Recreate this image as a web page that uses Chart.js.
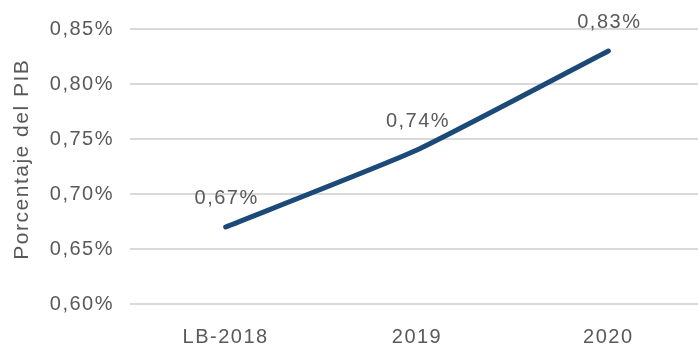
<!DOCTYPE html>
<html lang="es">
<head>
<meta charset="utf-8">
<script src="https://cdn.jsdelivr.net/npm/chart.js@4/dist/chart.umd.min.js"></script>
<style>
  html, body { margin: 0; padding: 0; background: #ffffff; }
  #wrap { width: 698px; height: 346px; overflow: hidden; position: relative; }
  #gastoPib { display: block; }
</style>
</head>
<body>
<div id="wrap">
  <canvas id="gastoPib" width="706" height="346"></canvas>
</div>
<script>
  // categorias y valores (% del PIB)
  const anios = ['LB-2018', '2019', '2020'];
  const porcentajePib = [0.67, 0.74, 0.83];
  const ejeMin = 0.60;
  const ejeMax = 0.85;
  const ejePaso = 0.05;

  const textoGris = '#595959';
  const fuente = "'Liberation Sans', Arial, Helvetica, sans-serif";

  function formatoPct(v, dec) {
    return v.toFixed(dec).replace('.', ',') + '%';
  }

  // espaciado de letras un poco abierto
  const espaciado = {
    id: 'espaciado',
    beforeDraw(chart) {
      chart.ctx.letterSpacing = '1.5px';
    }
  };

  // etiquetas de valor encima de cada punto
  const etiquetas = {
    id: 'etiquetas',
    afterDatasetsDraw(chart) {
      const ctx = chart.ctx;
      const meta = chart.getDatasetMeta(0);
      ctx.save();
      ctx.font = '20px ' + fuente;
      ctx.fillStyle = textoGris;
      ctx.textAlign = 'center';
      ctx.textBaseline = 'middle';
      meta.data.forEach(function (pt, i) {
        ctx.fillText(formatoPct(porcentajePib[i], 2), pt.x + 1, pt.y - 29);
      });
      ctx.restore();
    }
  };

  var lienzo = document.getElementById('gastoPib');

  new Chart(lienzo, {
    type: 'line',
    data: {
      labels: anios,
      datasets: [{
        label: 'Porcentaje del PIB',
        data: porcentajePib,
        borderColor: '#1c4a78',
        borderWidth: 5,
        borderCapStyle: 'round',
        tension: 0.15,
        pointRadius: 0,
        fill: false
      }]
    },
    options: {
      responsive: false,
      animation: false,
      layout: {
        padding: { top: 29, right: 2, bottom: 0, left: 0 }
      },
      plugins: {
        legend: { display: false },
        tooltip: { enabled: false }
      },
      scales: {
        x: {
          offset: true,
          grid: { display: false },
          border: { display: false },
          ticks: {
            color: textoGris,
            font: { family: fuente, size: 20 },
            padding: 13,
            maxRotation: 0
          },
          afterFit: function (scale) { scale.height = 42; }
        },
        y: {
          min: ejeMin,
          max: ejeMax,
          grid: {
            color: '#d9d9d9',
            lineWidth: 2,
            drawTicks: false
          },
          border: { display: false },
          ticks: {
            stepSize: ejePaso,
            color: textoGris,
            font: { family: fuente, size: 20 },
            padding: 16,
            callback: function (value) { return formatoPct(value, 2); }
          },
          title: {
            display: true,
            text: '  Porcentaje del PIB',
            color: textoGris,
            font: { family: fuente, size: 21 },
            padding: { top: 10, bottom: 0 }
          },
          afterFit: function (scale) { scale.width = 130; }
        }
      }
    },
    plugins: [espaciado, etiquetas]
  });
</script>
</body>
</html>
